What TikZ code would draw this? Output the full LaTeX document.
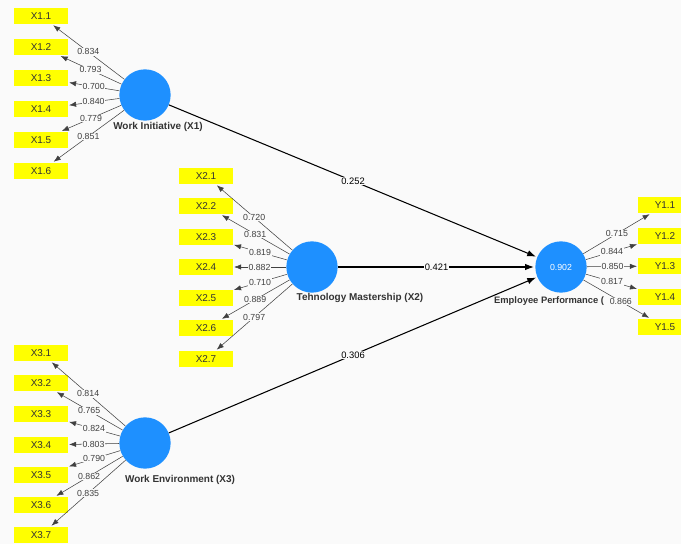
\documentclass[tikz,border=0pt]{standalone}
\usepackage{fontspec}
\setmainfont{Liberation Sans}
\usetikzlibrary{arrows.meta}
\definecolor{plsblue}{RGB}{30,144,255}
\definecolor{plsyellow}{RGB}{255,255,0}
\definecolor{canvas}{RGB}{250,250,250}
\begin{document}
\begin{tikzpicture}[x=0.03cm, y=-0.03cm,
  latent/.style = {circle, fill=plsblue, minimum size=1.54cm, inner sep=0pt,
    text=white, font=\fontsize{7.5}{9}\selectfont},
  indicator/.style = {fill=plsyellow, minimum width=1.6cm, minimum height=0.5cm,
    inner sep=0pt, text=black!80, font=\fontsize{8.5}{10}\selectfont},
  loading/.style = {-{Latex[length=6pt,width=4.5pt]}, draw=black!75, line width=0.45pt, shorten >=1pt},
  weight/.style = {fill=canvas, inner sep=0.6pt, text=black!75, font=\fontsize{7.5}{9}\selectfont},
  structural/.style = {-{Latex[length=7.5pt,width=5.5pt]}, line width=0.9pt, shorten >=1pt},
  coef/.style = {fill=canvas, inner sep=1pt, font=\fontsize{8}{9}\selectfont},
  caption/.style = {text=black!80, font=\bfseries\fontsize{8.5}{10}\selectfont}]
  \useasboundingbox (0,0) rectangle (681,544);
  \fill[canvas] (0,0) rectangle (681,544);
  % latent variables
  \node[latent] (wi) at (145,95) {};
  \node[latent] (tm) at (312,267) {};
  \node[latent] (we) at (145,443) {};
  \node[latent] (ep) at (561,267) {0.902};
  \node[caption] (wilab) at (158,127) {Work Initiative (X1)};
  \node[caption] (tmlab) at (360,298) {Tehnology Mastership (X2)};
  \node[caption] (welab) at (180,480) {Work Environment (X3)};
  \node[caption, anchor=west, font=\bfseries\fontsize{8}{10}\selectfont] (eplab) at (490,301) {Employee Performance (};
  % indicators X1
  \node[indicator] (x11) at (41,16) {X1.1};
  \node[indicator] (x12) at (41,47) {X1.2};
  \node[indicator] (x13) at (41,78) {X1.3};
  \node[indicator] (x14) at (41,109) {X1.4};
  \node[indicator] (x15) at (41,140) {X1.5};
  \node[indicator] (x16) at (41,171) {X1.6};
  % indicators X2
  \node[indicator] (x21) at (206,176) {X2.1};
  \node[indicator] (x22) at (206,206) {X2.2};
  \node[indicator] (x23) at (206,237) {X2.3};
  \node[indicator] (x24) at (206,267) {X2.4};
  \node[indicator] (x25) at (206,298) {X2.5};
  \node[indicator] (x26) at (206,328) {X2.6};
  \node[indicator] (x27) at (206,359) {X2.7};
  % indicators X3
  \node[indicator] (x31) at (41,353) {X3.1};
  \node[indicator] (x32) at (41,383) {X3.2};
  \node[indicator] (x33) at (41,414) {X3.3};
  \node[indicator] (x34) at (41,445) {X3.4};
  \node[indicator] (x35) at (41,475) {X3.5};
  \node[indicator] (x36) at (41,505) {X3.6};
  \node[indicator] (x37) at (41,535) {X3.7};
  % indicators Y
  \node[indicator] (y11) at (665,205) {Y1.1};
  \node[indicator] (y12) at (665,236) {Y1.2};
  \node[indicator] (y13) at (665,266) {Y1.3};
  \node[indicator] (y14) at (665,297) {Y1.4};
  \node[indicator] (y15) at (665,327) {Y1.5};
  % outer loadings
  \draw[loading] (wi) -- node[weight] {0.834} (x11);
  \draw[loading] (wi) -- node[weight] {0.793} (x12);
  \draw[loading] (wi) -- node[weight] {0.700} (x13);
  \draw[loading] (wi) -- node[weight] {0.840} (x14);
  \draw[loading] (wi) -- node[weight] {0.779} (x15);
  \draw[loading] (wi) -- node[weight] {0.851} (x16);
  \draw[loading] (tm) -- node[weight] {0.720} (x21);
  \draw[loading] (tm) -- node[weight] {0.831} (x22);
  \draw[loading] (tm) -- node[weight] {0.819} (x23);
  \draw[loading] (tm) -- node[weight] {0.882} (x24);
  \draw[loading] (tm) -- node[weight] {0.710} (x25);
  \draw[loading] (tm) -- node[weight] {0.889} (x26);
  \draw[loading] (tm) -- node[weight] {0.797} (x27);
  \draw[loading] (we) -- node[weight] {0.814} (x31);
  \draw[loading] (we) -- node[weight] {0.765} (x32);
  \draw[loading] (we) -- node[weight] {0.824} (x33);
  \draw[loading] (we) -- node[weight] {0.803} (x34);
  \draw[loading] (we) -- node[weight] {0.790} (x35);
  \draw[loading] (we) -- node[weight] {0.862} (x36);
  \draw[loading] (we) -- node[weight] {0.835} (x37);
  \draw[loading] (ep) -- node[weight] {0.715} (y11);
  \draw[loading] (ep) -- node[weight] {0.844} (y12);
  \draw[loading] (ep) -- node[weight] {0.850} (y13);
  \draw[loading] (ep) -- node[weight] {0.817} (y14);
  \draw[loading] (ep) -- node[weight, pos=0.56] {0.866} (y15);
  % path coefficients
  \draw[structural] (wi) -- node[coef] {0.252} (ep);
  \draw[structural] (tm) -- node[coef] {0.421} (ep);
  \draw[structural] (we) -- node[coef] {0.306} (ep);
\end{tikzpicture}
\end{document}
